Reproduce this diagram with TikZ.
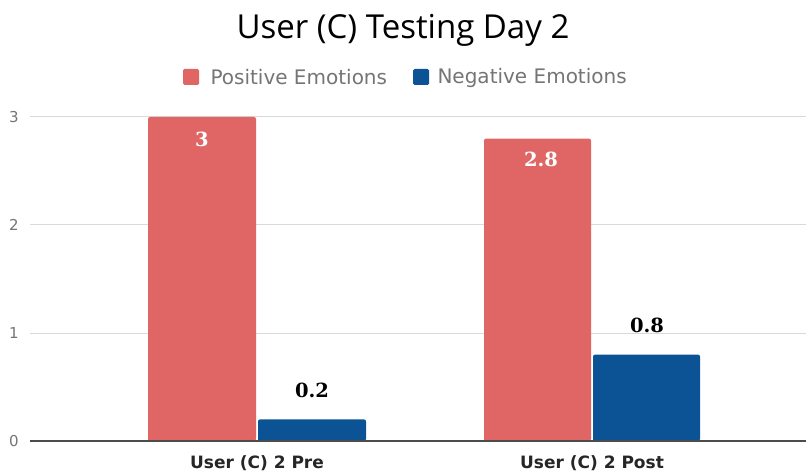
\documentclass[tikz,border=0pt]{standalone}
\usepackage{fontspec}
\setmainfont{Open Sans}
\newfontfamily\dvs{DejaVu Sans}
\newfontfamily\dvserif{DejaVu Serif}
\definecolor{posred}{HTML}{E06666}
\definecolor{negblue}{HTML}{0B5394}
\definecolor{gridc}{HTML}{D9D9D9}
\definecolor{tickc}{HTML}{757575}
\definecolor{legc}{HTML}{757575}
\tikzset{
  gridline/.style={draw=gridc, line width=1pt},
  baseline/.style={draw=black!70, line width=1.2pt},
  ticklbl/.style={text=tickc, font=\dvs\fontsize{15}{18}\selectfont, anchor=center},
  barred/.style={fill=posred, rounded corners=2pt},
  barblue/.style={fill=negblue, rounded corners=2pt},
  vallblw/.style={text=white, font=\dvserif\bfseries\fontsize{19.5}{22}\selectfont},
  vallblb/.style={text=black, font=\dvserif\bfseries\fontsize{19.5}{22}\selectfont},
  catlbl/.style={text=black!85, font=\dvs\bfseries\fontsize{17}{20}\selectfont},
  leglbl/.style={text=legc, font=\dvs\fontsize{20}{24}\selectfont, anchor=west},
}
\begin{document}
\begin{tikzpicture}[x=1pt,y=-1pt]
\useasboundingbox[fill=white] (0,0) rectangle (806,473);
% title
\node[font=\fontsize{33}{38}\selectfont, text=black] (title) at (403,30) {User (C) Testing Day 2};
% legend
\fill[posred, rounded corners=1.5pt] (183,69) rectangle (199,85);
\node[leglbl] (leg1) at (207,77.5) {Positive Emotions};
\fill[negblue, rounded corners=1.5pt] (413,69) rectangle (429,85);
\node[leglbl] (leg2) at (434,77.5) {Negative Emotions};
% grid
\foreach \v/\yy in {1/333,2/225,3/117}{
  \draw[gridline] (30,\yy) -- (806,\yy);
  \node[ticklbl] (tick\v) at (14,\yy) {\v};
}
\node[ticklbl] (tick0) at (14,441) {0};
% bars
\path[barred] (148,441) -- (148,117) -- (256,117) -- (256,441) [sharp corners] -- cycle;
\path[barblue] (258,441) -- (258,419.4) -- (366,419.4) -- (366,441) [sharp corners] -- cycle;
\path[barred] (484,441) -- (484,138.6) -- (591,138.6) -- (591,441) [sharp corners] -- cycle;
\path[barblue] (593,441) -- (593,354.6) -- (700,354.6) -- (700,441) [sharp corners] -- cycle;
\draw[baseline] (30,441) -- (806,441);
% values
\node[vallblw] (v1) at (202,139) {3};
\node[vallblb] (v2) at (312,390) {0.2};
\node[vallblw] (v3) at (541,159) {2.8};
\node[vallblb] (v4) at (647,325) {0.8};
% categories
\node[catlbl] (c1) at (257,463) {User (C) 2 Pre};
\node[catlbl] (c2) at (592,463) {User (C) 2 Post};
\end{tikzpicture}
\end{document}
